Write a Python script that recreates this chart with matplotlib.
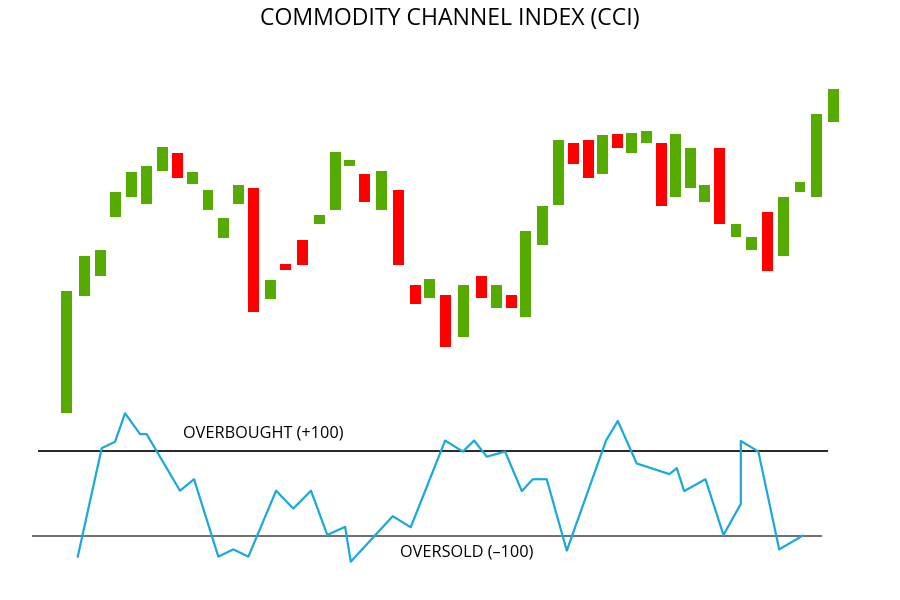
import numpy as np
import matplotlib.pyplot as plt

# candle data: time (in candle units), open, close
candle_t = [0, 1.18, 2.17, 3.16, 4.18, 5.14, 6.13, 7.09, 8.08, 9.04,
            10.00, 10.96, 11.95, 13.03, 13.99, 15.08, 16.19, 17.19, 18.11, 19.04,
            20.12, 21.18, 22.30, 23.22, 24.21, 25.36, 26.54, 27.50, 28.43, 29.32,
            30.38, 31.43, 32.39, 33.32, 34.24, 35.20, 36.09, 37.05, 38.01, 38.91,
            39.86, 40.76, 41.72, 42.77, 43.76, 44.78, 45.81, 46.86, 47.91, 49.00]
opens = [37, 154, 174, 233, 253, 246, 279, 297, 266, 240,
         212, 246, 262, 151, 186, 210, 226, 240, 284, 276,
         240, 260, 165, 152, 155, 113, 174, 142, 155, 133,
         205, 245, 307, 310, 276, 316, 297, 307, 307, 253,
         262, 248, 302, 213, 200, 238, 194, 258, 253, 328]
closes = [159, 194, 200, 258, 278, 284, 303, 272, 278, 260,
          232, 265, 138, 170, 180, 185, 235, 298, 290, 248,
          279, 185, 146, 171, 103, 165, 152, 165, 142, 219,
          244, 310, 286, 272, 315, 302, 317, 319, 244, 316,
          302, 265, 226, 226, 213, 179, 253, 268, 336, 361]

# CCI line (time in candle units, value)
cci_t = [0.72, 2.25, 3.10, 3.74, 4.70, 5.12, 7.25, 8.15, 9.70, 10.66,
         11.62, 13.39, 14.49, 15.62, 16.66, 17.80, 18.16, 20.84, 21.99, 24.19,
         25.32, 26.04, 26.85, 28.02, 29.09, 29.79, 30.68, 31.96, 34.47, 35.22,
         36.43, 38.52, 38.99, 39.46, 40.82, 41.97, 43.08, 43.08, 44.20, 45.53,
         47.02]
cci = [-149, 106, 121, 188, 139, 139, 6, 33, -149, -132,
       -149, 6, -36, 6, -98, -79, -161, -54, -80, 124,
       98, 124, 86, 98, 5, 33, 33, -135, 124, 170,
       70, 45, 59, 5, 33, -98, -25, 123, 98, -132,
       -100]

overbought = 100
oversold = -100

green = '#56ab00'
red = '#ff0000'
line_blue = '#1ba8dc'

plt.rcParams['font.family'] = ['Open Sans', 'DejaVu Sans']

fig = plt.figure(figsize=(9, 6), dpi=100)
fig.patch.set_facecolor('white')

step = 15.653
x0 = 66.5
xl = (-x0 / step, (900 - x0) / step)

# price panel
ax = fig.add_axes([0, 0.3, 1, 340 / 600])
o = np.array(opens)
c = np.array(closes)
cols = [green if cc >= oo else red for oo, cc in zip(o, c)]
ax.bar(candle_t, c - o, bottom=o, width=0.7, color=cols, edgecolor='none')
ax.set_xlim(*xl)
ax.set_ylim(30, 370)
ax.axis('off')

# CCI panel
ax2 = fig.add_axes([0, 20 / 600, 1, 0.3])
ax2.set_xlim(*xl)
ax2.set_ylim(-204, 219.3)
ax2.axis('off')
ax2.hlines(overbought, -1.82, 48.65, color='black', lw=1.2)
ax2.hlines(oversold, -2.22, 48.27, color='#555555', lw=1.2)
ax2.plot(cci_t, cci, color=line_blue, lw=1.6)
ax2.text(7.44, 140, 'OVERBOUGHT (+100)', fontsize=11.7, ha='left', va='center')
ax2.text(21.3, -139, 'OVERSOLD (\u2013100)', fontsize=11.7, ha='left', va='center')

fig.text(0.5, 1 - 19 / 600, 'COMMODITY CHANNEL INDEX (CCI)', fontsize=16.6,
         ha='center', va='center', fontweight='medium')

fig.savefig('out.png', dpi=100, facecolor='white')
